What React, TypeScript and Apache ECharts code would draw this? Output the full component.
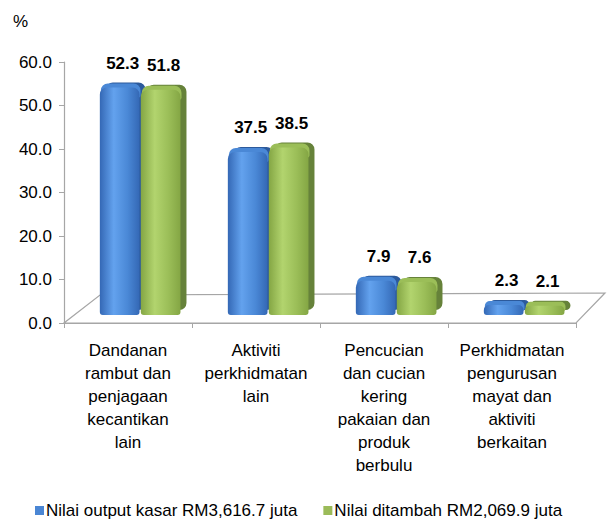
import React, { useEffect, useRef } from "react";
import * as echarts from "echarts";

const categories = [
  "Dandanan\nrambut dan\npenjagaan\nkecantikan\nlain",
  "Aktiviti\nperkhidmatan\nlain",
  "Pencucian\ndan cucian\nkering\npakaian dan\nproduk\nberbulu",
  "Perkhidmatan\npengurusan\nmayat dan\naktiviti\nberkaitan",
];
const seriesNames = ["Nilai output kasar RM3,616.7 juta", "Nilai ditambah RM2,069.9 juta"];
const outputValues = [52.3, 37.5, 7.9, 2.3];
const addedValues = [51.8, 38.5, 7.6, 2.1];
const yTicks = { min: 0, max: 60, interval: 10 };

const FONT = "'Liberation Sans', Arial, sans-serif";
const palettes = [
  { light: "#63A2EE", mid: "#4A88D6", dark: "#3468B5", side: "#2C5A9C", legend: "#4A86D4" },
  { light: "#B2D46E", mid: "#9BBE58", dark: "#84A644", side: "#66823A", legend: "#9BBB59" },
];

function makeRender(sIdx: number) {
  return (params: any, api: any) => {
    const cat = api.value(0);
    const val = api.value(1);
    const base = api.coord([cat, 0]);
    const top = api.coord([cat, val]);
    const band = api.size([1, 0])[0];
    const w = band * 0.31;
    const left = sIdx === 0 ? base[0] - band * 0.22 : base[0] + band * 0.1;
    const dy = -8;
    const yb = base[1] + dy;
    const yt = top[1] + dy;
    const h = Math.max(yb - yt, 4);
    const p = palettes[sIdx];
    const r = Math.min(7, h / 2);
    const sx = 6;
    const sy = -5;
    return {
      type: "group",
      children: [
        {
          type: "rect",
          shape: { x: left + sx, y: yt + sy, width: w, height: h, r: [r, r, r, r] },
          style: { fill: p.side },
        },
        {
          type: "rect",
          shape: { x: left + 1, y: yt + sy + 1, width: w, height: Math.min(h, 14), r: [r, r, 2, 2] },
          style: { fill: p.mid },
        },
        {
          type: "rect",
          shape: { x: left, y: yt, width: w, height: h, r: [r, r, Math.min(3, r), Math.min(3, r)] },
          style: {
            fill: new echarts.graphic.LinearGradient(0, 0, 1, 0, [
              { offset: 0, color: p.dark },
              { offset: 0.35, color: p.light },
              { offset: 0.7, color: p.mid },
              { offset: 1, color: p.dark },
            ]),
          },
        },
        {
          type: "text",
          style: {
            text: val.toFixed(1),
            x: left + w / 2 + 3,
            y: yt - 24,
            align: "center",
            verticalAlign: "middle",
            fill: "#000",
            font: `bold 17px ${FONT}`,
          },
        },
      ],
    };
  };
}

function renderFloor(params: any, api: any) {
  const cs = params.coordSys;
  const x0 = cs.x;
  const x1 = cs.x + cs.width;
  const yf = cs.y + cs.height;
  const stroke = "#A6A6A6";
  return {
    type: "group",
    children: [
      {
        type: "polygon",
        shape: { points: [[x0, yf], [x1, yf], [x1 + 29, yf - 30], [x0 + 36, yf - 28]] },
        style: { fill: "#FFFFFF", stroke, lineWidth: 1.2 },
      },
    ],
  };
}

export default function App() {
  const ref = useRef<HTMLDivElement>(null);
  useEffect(() => {
    if (!ref.current) return;
    const chart = echarts.init(ref.current, undefined, { renderer: "svg" });
    chart.setOption({
      animation: false,
      backgroundColor: "#FFFFFF",
      textStyle: { fontFamily: FONT },
      grid: { left: 64, right: 31, top: 62, bottom: 196, containLabel: false },
      graphic: [
        {
          type: "text",
          left: 13,
          top: 13,
          style: { text: "%", font: `17px ${FONT}`, fill: "#000" },
        },
      ],
      legend: {
        data: seriesNames,
        left: 30,
        bottom: -5,
        icon: "rect",
        itemWidth: 9,
        itemHeight: 9,
        itemGap: 26,
        textStyle: { fontSize: 17, color: "#000", fontFamily: FONT, padding: [0, 0, 0, -3] },
      },
      xAxis: {
        type: "category",
        data: categories,
        axisLine: { show: true, lineStyle: { color: "#A6A6A6", width: 1.2 } },
        axisTick: { show: true, length: 5, alignWithLabel: false, lineStyle: { color: "#A6A6A6" } },
        axisLabel: {
          interval: 0,
          fontSize: 17,
          color: "#000",
          lineHeight: 23,
          margin: 16,
          align: "center",
          fontFamily: FONT,
        },
      },
      yAxis: {
        type: "value",
        min: yTicks.min,
        max: yTicks.max,
        interval: yTicks.interval,
        axisLine: { show: true, lineStyle: { color: "#A6A6A6", width: 1.2 } },
        axisTick: { show: true, length: 5, lineStyle: { color: "#A6A6A6" } },
        splitLine: { show: false },
        axisLabel: {
          fontSize: 17,
          color: "#000",
          margin: 12,
          fontFamily: FONT,
          formatter: (v: number) => v.toFixed(1),
        },
      },
      series: [
        {
          name: "floor",
          type: "custom",
          renderItem: renderFloor,
          data: [[0, 0]],
          encode: { x: 0, y: 1 },
          silent: true,
          z: 1,
        },
        {
          name: seriesNames[0],
          type: "custom",
          renderItem: makeRender(0),
          data: outputValues.map((v, i) => [i, v]),
          encode: { x: 0, y: 1 },
          itemStyle: { color: palettes[0].legend },
          z: 2,
        },
        {
          name: seriesNames[1],
          type: "custom",
          renderItem: makeRender(1),
          data: addedValues.map((v, i) => [i, v]),
          encode: { x: 0, y: 1 },
          itemStyle: { color: palettes[1].legend },
          z: 3,
        },
      ],
    });
    return () => chart.dispose();
  }, []);
  return (
    <div
      ref={ref}
      style={{ position: "fixed", left: 0, top: 0, width: 607, height: 519, background: "#fff" }}
    />
  );
}
